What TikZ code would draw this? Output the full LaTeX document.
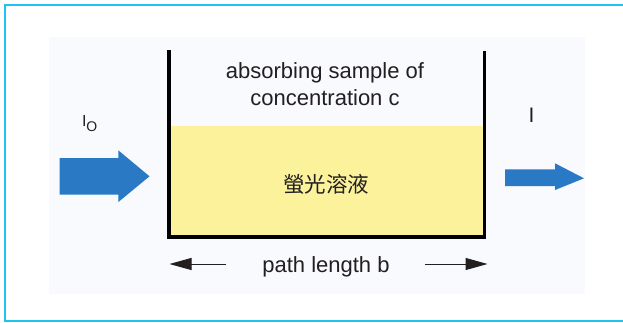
\documentclass[tikz,border=0pt]{standalone}
\usepackage{fontspec}
\setmainfont{Liberation Sans}
\newfontfamily\cjk{Noto Sans CJK TC}
\usetikzlibrary{arrows.meta}
\definecolor{framecyan}{RGB}{30,196,238}
\definecolor{panelbg}{RGB}{248,250,253}
\definecolor{liquid}{RGB}{251,242,155}
\definecolor{beamblue}{RGB}{42,121,197}
\definecolor{txt}{RGB}{35,31,32}
\tikzset{
  lbl/.style={inner sep=0pt, outer sep=0pt, text=txt, font=\fontsize{22}{22}\selectfont},
  beam/.style={fill=beamblue, draw=none},
  wall/.style={draw=black, line width=4pt, line cap=rect, line join=miter},
  dimarrow/.style={draw=txt, line width=1pt, -{Triangle[length=22pt,width=12pt]}}
}
\begin{document}
\begin{tikzpicture}[x=1pt,y=1pt]
\useasboundingbox (0,0) rectangle (623,-322);
% outer frame
\draw[framecyan, line width=1.6pt] (630,-4.8) -- (4.8,-4.8) -- (4.8,-321.2) -- (630,-321.2);
% panel
\fill[panelbg] (48.5,-36.7) rectangle (584.5,-294);
% liquid
\fill[liquid] (168.5,-126) rectangle (484,-236.5);
% container
\draw[wall] (168.5,-52.3) -- (168.5,-236.5) -- (484,-236.5);
\draw[draw=black, line width=3pt, line cap=rect] (484,-236.5) -- (484,-52.3);
% texts
\node[lbl, anchor=base] (t1) at (325,-78.3) {absorbing sample of};
\node[lbl, anchor=base] (t2) at (325,-105) {concentration c};
\node[inner sep=0pt, text=txt, font=\cjk\fontsize{21.5}{21.5}\selectfont] (cn) at (326.4,-184) {螢光溶液};
\node[lbl, anchor=base west, font=\fontsize{16}{16}\selectfont] (i0) at (82,-126.7) {I\raisebox{-4.3pt}{\fontsize{14}{14}\selectfont O}};
\node[lbl, anchor=base, font=\fontsize{21}{21}\selectfont] (i1) at (531.5,-122.7) {I};
% incoming beam
\path[beam] (59.6,-158) -- (118.4,-158) -- (118.4,-150.4) -- (149.5,-176.3) -- (118.4,-202) -- (118.4,-194.6) -- (59.6,-194.6) -- cycle;
% outgoing beam
\path[beam] (505,-169.3) -- (555,-169.3) -- (555,-163.3) -- (584,-178.3) -- (555,-190) -- (555,-186) -- (505,-186) -- cycle;
% path length
\node[lbl, anchor=base] (pl) at (326,-272.3) {path length b};
\coordinate (la) at (226,-264);
\coordinate (lb) at (169.5,-264);
\coordinate (ra) at (425,-264);
\coordinate (rb) at (487.5,-264);
\draw[dimarrow] (la) -- (lb);
\draw[dimarrow] (ra) -- (rb);
\end{tikzpicture}
\end{document}
